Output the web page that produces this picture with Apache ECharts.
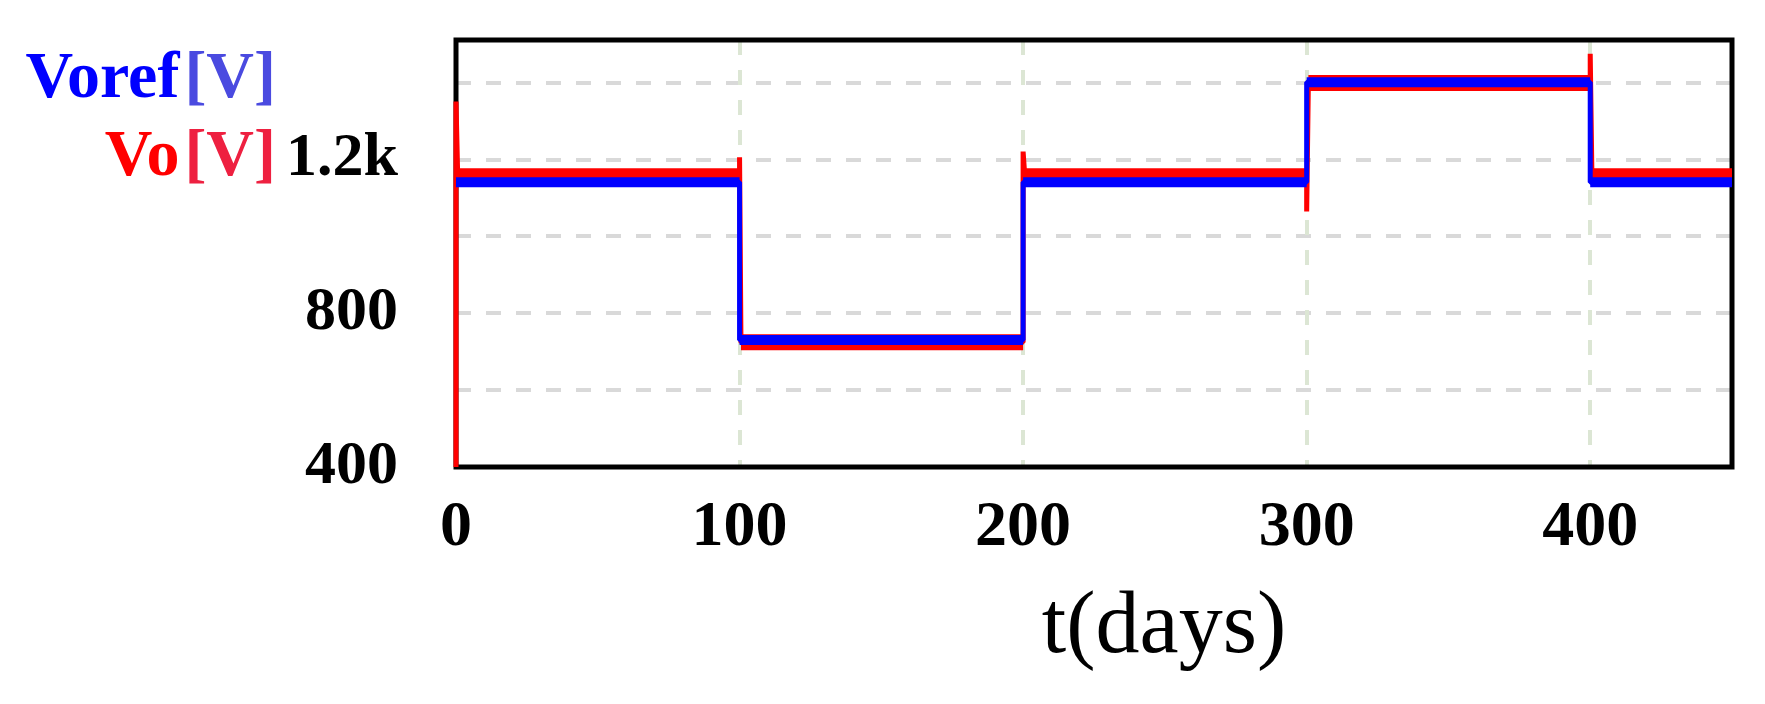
<!DOCTYPE html>
<html>
<head>
<meta charset="utf-8">
<script src="https://cdn.jsdelivr.net/npm/echarts@6/dist/echarts.min.js"></script>
<style>html,body{margin:0;padding:0;background:#fff;}#c{width:1765px;height:704px;}</style>
</head>
<body>
<div id="c"></div>
<script>
// ---- data ----
var vorefT = [0, 100, 100, 200, 200, 300, 300, 400, 400, 450];
var vorefV = [1140, 1140, 730, 730, 1140, 1140, 1400, 1400, 1140, 1140];
var voT = [0, 0, 0.6, 100, 100, 100.5, 200, 200, 200.6, 300, 300, 300.6, 400, 400, 400.6, 450];
var voV = [400, 1350, 1156, 1156, 1205, 724, 724, 1220, 1156, 1156, 1064, 1398, 1398, 1474, 1156, 1156];
var yLabelValues = [400, 800, 1200];
var yLabelTexts = ['400', '800', '1.2k'];
var xLabelValues = [0, 100, 200, 300, 400];
var xLabelTexts = ['0', '100', '200', '300', '400'];

function pairs(ts, vs) { return ts.map(function (t, i) { return [t, vs[i]]; }); }
// flat (constant) stretches of a step signal, separated by gaps
function flats(ts, vs) {
  var out = [];
  for (var i = 0; i < ts.length - 1; i++) {
    if (vs[i] === vs[i + 1] && ts[i] !== ts[i + 1]) {
      out.push([ts[i], vs[i]], [ts[i + 1], vs[i + 1]], [ts[i + 1], '-']);
    }
  }
  return out;
}

var serif = '"Liberation Serif", "Times New Roman", serif';
var chart = echarts.init(document.getElementById('c'), null, { renderer: 'canvas' });
chart.setOption({
  animation: false,
  backgroundColor: '#ffffff',
  title: [
    { text: '{a|Voref} {b|[V]}', right: 1489, top: 47, padding: 0,
      textStyle: { rich: {
        a: { fontFamily: serif, fontWeight: 'bold', fontSize: 66, color: '#0000ff' },
        b: { fontFamily: serif, fontWeight: 'bold', fontSize: 66, color: '#4a4ae0' } } } },
    { text: '{a|Vo} {b|[V]}', right: 1489, top: 125, padding: 0,
      textStyle: { rich: {
        a: { fontFamily: serif, fontWeight: 'bold', fontSize: 66, color: '#ff0000' },
        b: { fontFamily: serif, fontWeight: 'bold', fontSize: 66, color: '#ee2040' } } } }
  ],
  grid: { left: 456, right: 33, top: 40, bottom: 237, show: true, z: 1, borderColor: '#000', borderWidth: 5, backgroundColor: 'transparent' },
  xAxis: {
    type: 'value', min: 0, max: 450, interval: 100, z: 0,
    axisLine: { show: false }, axisTick: { show: false },
    axisLabel: {
      margin: 29, fontFamily: serif, fontWeight: 'bold', fontSize: 64, color: '#000',
      showMaxLabel: false,
      formatter: function (v) { var i = xLabelValues.indexOf(v); return i >= 0 ? xLabelTexts[i] : ''; }
    },
    splitLine: { show: true, lineStyle: { color: '#dce6d4', width: 4, type: [15, 15] } },
    name: 't(days)', nameLocation: 'middle', nameGap: 118,
    nameTextStyle: { fontFamily: serif, fontSize: 88, color: '#000', padding: [0, 0, 0, 140] }
  },
  yAxis: {
    type: 'value', min: 400, max: 1510, interval: 200, z: 0,
    axisLine: { show: false }, axisTick: { show: false },
    axisLabel: {
      margin: 58, fontFamily: serif, fontWeight: 'bold', fontSize: 62, color: '#000',
      showMaxLabel: false, padding: [12, 0, 0, 0],
      formatter: function (v) { var i = yLabelValues.indexOf(v); return i >= 0 ? yLabelTexts[i] : ''; }
    },
    splitLine: { show: true, lineStyle: { color: '#d9d9d9', width: 4, type: [15, 15] } }
  },
  series: [
    { name: 'Vo [V]', type: 'line', data: pairs(voT, voV), showSymbol: false, z: 2, clip: false,
      lineStyle: { color: '#ff0000', width: 5 }, silent: true },
    { name: 'Vo [V] band', type: 'line', data: flats(voT, voV), showSymbol: false, z: 3,
      connectNulls: false, lineStyle: { color: '#ff0000', width: 16, cap: 'butt' }, silent: true },
    { name: 'Voref [V]', type: 'line', data: pairs(vorefT, vorefV), showSymbol: false, z: 4,
      lineStyle: { color: '#0000ff', width: 5 }, silent: true },
    { name: 'Voref [V] band', type: 'line', data: flats(vorefT, vorefV), showSymbol: false, z: 5,
      connectNulls: false, lineStyle: { color: '#0000ff', width: 10, cap: 'butt' }, silent: true }
  ]
});
</script>
</body>
</html>
